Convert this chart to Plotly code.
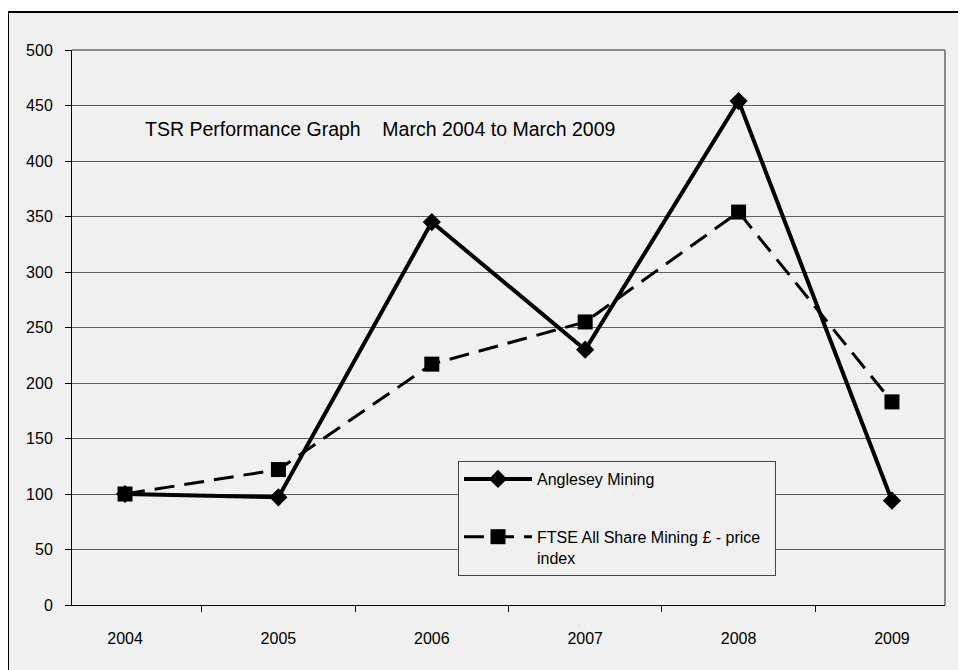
import plotly.graph_objects as go

years = ["2004", "2005", "2006", "2007", "2008", "2009"]
anglesey = [100, 97, 345, 230, 454, 94]
ftse = [100, 122, 217, 255, 354, 183]
y_ticks = [0, 50, 100, 150, 200, 250, 300, 350, 400, 450, 500]

FONT = "Liberation Sans"

fig = go.Figure()
fig.add_trace(go.Scatter(
    x=years, y=anglesey, name="Anglesey Mining", mode="lines+markers",
    line=dict(color="black", width=4),
    marker=dict(symbol="diamond", size=14, color="black"),
    legendgroup="a", legendrank=1,
))
fig.add_trace(go.Scatter(
    x=years, y=ftse, name="FTSE All Share Mining £ - price\u00a0\u00a0<br>index", mode="lines+markers",
    line=dict(color="black", width=3, dash="20px,10px"),
    marker=dict(symbol="square", size=15, color="black"),
    legendgroup="b", legendrank=2,
))

# page body has an 8px margin; figure coordinates are page coordinates minus 8
OFF = 8
L, R, T, B = 72 - OFF, 21, 50 - OFF, 65
W, H = 966 - OFF, 670 - OFF
pw, ph = W - L - R, H - T - B

def px(x):
    return (x - OFF - L) / pw

def py(y):
    return (H - B - (y - OFF)) / ph

shapes = [
    # outer chart area
    dict(type="rect", xref="paper", yref="paper", x0=px(8), x1=px(1000), y0=py(720), y1=py(12),
         fillcolor="#f0f0f0", line=dict(color="black", width=2), layer="below"),
    # plot area border top/right
    dict(type="line", xref="paper", yref="paper", x0=0, x1=1, y0=1, y1=1,
         line=dict(color="#8a8a8a", width=2), layer="above"),
    dict(type="line", xref="paper", yref="paper", x0=1, x1=1, y0=0, y1=1,
         line=dict(color="#8a8a8a", width=2), layer="above"),
]

fig.update_layout(
    width=W, height=H,
    margin=dict(l=L, r=R, t=T, b=B, pad=0),
    paper_bgcolor="white",
    plot_bgcolor="rgba(0,0,0,0)",
    font=dict(family=FONT, size=16, color="black"),
    shapes=shapes,
    showlegend=True,
    legend=dict(
        x=px(458), y=py(461), xanchor="left", yanchor="top",
        bgcolor="#f0f0f0", bordercolor="#444", borderwidth=1,
        font=dict(family=FONT, size=16, color="black"),
        traceorder="grouped", tracegroupgap=34, valign="top",
        itemwidth=68,
    ),
    annotations=[dict(
        text="TSR Performance Graph\u00a0\u00a0\u00a0 March 2004 to March 2009",
        xref="paper", yref="paper", x=px(143), y=py(129),
        xanchor="left", yanchor="middle", showarrow=False,
        font=dict(family=FONT, size=19.5, color="black"),
    )],
)
fig.update_xaxes(
    type="category", categoryorder="array", categoryarray=years,
    showline=True, linecolor="black", linewidth=1,
    ticks="outside", ticklen=6, tickcolor="black", tickson="boundaries",
    showgrid=False, zeroline=False, ticklabelstandoff=19,
    tickfont=dict(family=FONT, size=16, color="black"),
)
fig.update_yaxes(
    range=[0, 500], tickmode="array", tickvals=y_ticks,
    showline=True, linecolor="black", linewidth=1,
    ticks="outside", ticklen=6, tickcolor="black",
    showgrid=True, gridcolor="#5e5e5e", gridwidth=1, zeroline=False,
    ticklabelstandoff=9,
    tickfont=dict(family=FONT, size=16, color="black"),
)

fig.write_html("out.html")
